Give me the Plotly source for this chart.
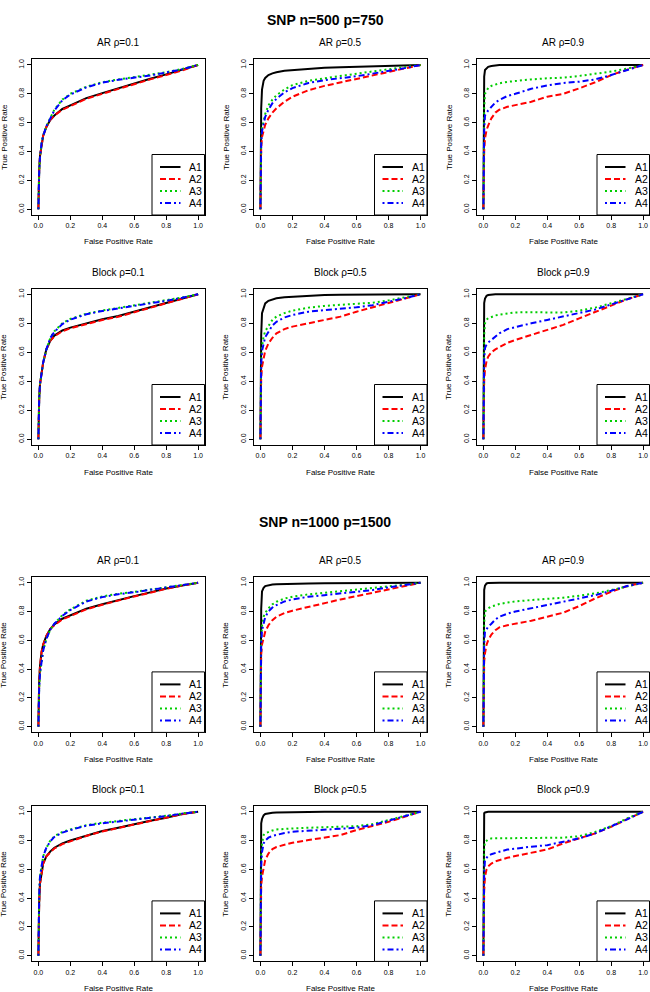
import plotly.graph_objects as go

# ---------------- data ----------------
FPR = [0, 0.002, 0.005, 0.01, 0.02, 0.03, 0.05, 0.075, 0.1, 0.15, 0.2, 0.3, 0.4, 0.5, 0.6, 0.7, 0.8, 0.9, 1.0]
METHODS = ["A1", "A2", "A3", "A4"]
PANEL_TITLES = ["AR ρ=0.1", "AR ρ=0.5", "AR ρ=0.9", "Block ρ=0.1", "Block ρ=0.5", "Block ρ=0.9"]
SECTION_TITLES = ["SNP n=500 p=750", "SNP n=1000 p=1500"]
TICKS = [0.0, 0.2, 0.4, 0.6, 0.8, 1.0]

# n=500, p=750
ar01_n500_A1 = [0, 0.15, 0.27, 0.37, 0.46, 0.51, 0.57, 0.62, 0.65, 0.695, 0.72, 0.77, 0.805, 0.84, 0.875, 0.905, 0.935, 0.965, 1]
ar01_n500_A2 = [0, 0.15, 0.27, 0.37, 0.46, 0.51, 0.57, 0.62, 0.65, 0.69, 0.715, 0.765, 0.80, 0.835, 0.87, 0.90, 0.93, 0.962, 1]
ar01_n500_A3 = [0, 0.14, 0.26, 0.36, 0.46, 0.51, 0.575, 0.635, 0.69, 0.76, 0.80, 0.85, 0.88, 0.90, 0.915, 0.93, 0.95, 0.972, 1]
ar01_n500_A4 = [0, 0.14, 0.26, 0.36, 0.46, 0.51, 0.575, 0.63, 0.685, 0.755, 0.795, 0.845, 0.877, 0.897, 0.912, 0.927, 0.948, 0.97, 1]

ar05_n500_A1 = [0, 0.5, 0.7, 0.83, 0.89, 0.91, 0.93, 0.942, 0.95, 0.96, 0.965, 0.975, 0.98, 0.985, 0.988, 0.99, 0.993, 0.996, 1]
ar05_n500_A2 = [0, 0.3, 0.42, 0.5, 0.55, 0.585, 0.63, 0.67, 0.70, 0.745, 0.78, 0.825, 0.855, 0.88, 0.905, 0.928, 0.952, 0.975, 1]
ar05_n500_A3 = [0, 0.35, 0.48, 0.56, 0.62, 0.66, 0.72, 0.76, 0.79, 0.83, 0.86, 0.89, 0.908, 0.922, 0.937, 0.955, 0.97, 0.985, 1]
ar05_n500_A4 = [0, 0.33, 0.46, 0.54, 0.60, 0.64, 0.69, 0.735, 0.765, 0.81, 0.84, 0.875, 0.895, 0.908, 0.922, 0.94, 0.958, 0.978, 1]

ar09_n500_A1 = [0, 0.8, 0.92, 0.965, 0.98, 0.987, 0.993, 0.997, 0.999, 1, 1, 1, 1, 1, 1, 1, 1, 1, 1]
ar09_n500_A2 = [0, 0.3, 0.4, 0.49, 0.55, 0.58, 0.63, 0.67, 0.69, 0.71, 0.72, 0.745, 0.78, 0.80, 0.838, 0.88, 0.93, 0.968, 1]
ar09_n500_A3 = [0, 0.5, 0.7, 0.80, 0.825, 0.84, 0.855, 0.865, 0.873, 0.883, 0.89, 0.90, 0.908, 0.912, 0.924, 0.938, 0.954, 0.975, 1]
ar09_n500_A4 = [0, 0.4, 0.55, 0.65, 0.67, 0.685, 0.71, 0.74, 0.757, 0.785, 0.80, 0.835, 0.858, 0.875, 0.884, 0.90, 0.93, 0.963, 1]

bl01_n500_A1 = [0, 0.15, 0.28, 0.38, 0.47, 0.53, 0.62, 0.68, 0.715, 0.75, 0.77, 0.80, 0.828, 0.85, 0.88, 0.908, 0.938, 0.966, 1]
bl01_n500_A2 = [0, 0.15, 0.28, 0.38, 0.47, 0.53, 0.62, 0.68, 0.71, 0.745, 0.765, 0.795, 0.823, 0.845, 0.875, 0.905, 0.935, 0.965, 1]
bl01_n500_A3 = [0, 0.15, 0.28, 0.38, 0.47, 0.53, 0.62, 0.70, 0.745, 0.80, 0.83, 0.866, 0.888, 0.905, 0.922, 0.94, 0.958, 0.978, 1]
bl01_n500_A4 = [0, 0.15, 0.28, 0.38, 0.47, 0.53, 0.62, 0.70, 0.74, 0.795, 0.825, 0.862, 0.885, 0.902, 0.918, 0.936, 0.955, 0.976, 1]

bl05_n500_A1 = [0, 0.5, 0.72, 0.87, 0.91, 0.937, 0.955, 0.966, 0.972, 0.98, 0.984, 0.99, 0.995, 0.997, 0.998, 0.999, 1, 1, 1]
bl05_n500_A2 = [0, 0.3, 0.42, 0.5, 0.57, 0.61, 0.66, 0.70, 0.73, 0.76, 0.777, 0.80, 0.823, 0.846, 0.88, 0.908, 0.94, 0.97, 1]
bl05_n500_A3 = [0, 0.4, 0.55, 0.64, 0.71, 0.745, 0.785, 0.825, 0.846, 0.87, 0.887, 0.908, 0.92, 0.926, 0.933, 0.942, 0.958, 0.978, 1]
bl05_n500_A4 = [0, 0.37, 0.52, 0.61, 0.67, 0.705, 0.74, 0.785, 0.81, 0.84, 0.857, 0.88, 0.891, 0.898, 0.91, 0.925, 0.946, 0.972, 1]

bl09_n500_A1 = [0, 0.85, 0.94, 0.97, 0.99, 0.995, 0.998, 1, 1, 1, 1, 1, 1, 1, 1, 1, 1, 1, 1]
bl09_n500_A2 = [0, 0.3, 0.4, 0.48, 0.54, 0.57, 0.60, 0.62, 0.635, 0.665, 0.685, 0.72, 0.754, 0.789, 0.834, 0.878, 0.925, 0.966, 1]
bl09_n500_A3 = [0, 0.55, 0.72, 0.80, 0.825, 0.834, 0.845, 0.854, 0.86, 0.87, 0.875, 0.876, 0.874, 0.874, 0.887, 0.908, 0.938, 0.97, 1]
bl09_n500_A4 = [0, 0.4, 0.55, 0.628, 0.655, 0.667, 0.685, 0.71, 0.73, 0.76, 0.775, 0.80, 0.823, 0.846, 0.869, 0.895, 0.93, 0.965, 1]

# n=1000, p=1500
ar01_n1000_A1 = [0, 0.2, 0.32, 0.42, 0.52, 0.57, 0.63, 0.68, 0.71, 0.75, 0.775, 0.82, 0.85, 0.88, 0.907, 0.933, 0.96, 0.98, 1]
ar01_n1000_A2 = [0, 0.2, 0.32, 0.42, 0.52, 0.57, 0.63, 0.68, 0.705, 0.745, 0.77, 0.815, 0.847, 0.877, 0.905, 0.93, 0.958, 0.98, 1]
ar01_n1000_A3 = [0, 0.16, 0.27, 0.37, 0.47, 0.53, 0.61, 0.675, 0.715, 0.775, 0.815, 0.875, 0.905, 0.924, 0.937, 0.953, 0.972, 0.988, 1]
ar01_n1000_A4 = [0, 0.16, 0.27, 0.37, 0.47, 0.53, 0.61, 0.675, 0.715, 0.77, 0.81, 0.87, 0.90, 0.92, 0.934, 0.95, 0.97, 0.987, 1]

ar05_n1000_A1 = [0, 0.6, 0.82, 0.94, 0.965, 0.977, 0.984, 0.988, 0.99, 0.992, 0.994, 0.995, 0.996, 0.997, 0.998, 0.999, 1, 1, 1]
ar05_n1000_A2 = [0, 0.35, 0.5, 0.57, 0.625, 0.66, 0.705, 0.74, 0.764, 0.79, 0.806, 0.833, 0.862, 0.884, 0.907, 0.93, 0.954, 0.977, 1]
ar05_n1000_A3 = [0, 0.4, 0.6, 0.7, 0.764, 0.79, 0.822, 0.85, 0.868, 0.89, 0.903, 0.919, 0.93, 0.94, 0.949, 0.96, 0.972, 0.986, 1]
ar05_n1000_A4 = [0, 0.4, 0.58, 0.67, 0.729, 0.76, 0.80, 0.828, 0.845, 0.87, 0.884, 0.903, 0.914, 0.926, 0.938, 0.949, 0.968, 0.984, 1]

ar09_n1000_A1 = [0, 0.85, 0.95, 0.98, 0.995, 0.998, 1, 1, 1, 1, 1, 1, 1, 1, 1, 1, 1, 1, 1]
ar09_n1000_A2 = [0, 0.35, 0.45, 0.51, 0.57, 0.60, 0.64, 0.67, 0.69, 0.705, 0.715, 0.736, 0.764, 0.792, 0.838, 0.891, 0.938, 0.977, 1]
ar09_n1000_A3 = [0, 0.55, 0.72, 0.80, 0.812, 0.822, 0.835, 0.845, 0.852, 0.862, 0.87, 0.88, 0.887, 0.896, 0.91, 0.926, 0.949, 0.977, 1]
ar09_n1000_A4 = [0, 0.45, 0.58, 0.66, 0.68, 0.695, 0.715, 0.745, 0.764, 0.785, 0.80, 0.822, 0.845, 0.868, 0.891, 0.914, 0.944, 0.977, 1]

bl01_n1000_A1 = [0, 0.22, 0.37, 0.50, 0.59, 0.64, 0.69, 0.725, 0.75, 0.78, 0.80, 0.835, 0.866, 0.889, 0.914, 0.938, 0.958, 0.984, 1]
bl01_n1000_A2 = [0, 0.22, 0.37, 0.50, 0.59, 0.64, 0.69, 0.72, 0.745, 0.775, 0.795, 0.832, 0.863, 0.887, 0.912, 0.936, 0.957, 0.983, 1]
bl01_n1000_A3 = [0, 0.25, 0.42, 0.55, 0.64, 0.69, 0.75, 0.80, 0.83, 0.86, 0.877, 0.907, 0.924, 0.935, 0.947, 0.958, 0.972, 0.988, 1]
bl01_n1000_A4 = [0, 0.25, 0.42, 0.55, 0.64, 0.69, 0.75, 0.795, 0.825, 0.855, 0.873, 0.903, 0.92, 0.932, 0.944, 0.955, 0.97, 0.987, 1]

bl05_n1000_A1 = [0, 0.75, 0.92, 0.95, 0.975, 0.984, 0.99, 0.993, 0.995, 0.997, 0.998, 0.999, 1, 1, 1, 1, 1, 1, 1]
bl05_n1000_A2 = [0, 0.35, 0.48, 0.55, 0.62, 0.664, 0.71, 0.74, 0.755, 0.772, 0.785, 0.803, 0.822, 0.838, 0.873, 0.90, 0.93, 0.965, 1]
bl05_n1000_A3 = [0, 0.5, 0.7, 0.78, 0.838, 0.85, 0.861, 0.87, 0.877, 0.882, 0.884, 0.889, 0.891, 0.896, 0.90, 0.914, 0.942, 0.972, 1]
bl05_n1000_A4 = [0, 0.45, 0.62, 0.72, 0.78, 0.80, 0.82, 0.832, 0.84, 0.852, 0.861, 0.868, 0.873, 0.88, 0.889, 0.907, 0.938, 0.968, 1]

bl09_n1000_A1 = [0, 0.98, 0.99, 0.995, 1, 1, 1, 1, 1, 1, 1, 1, 1, 1, 1, 1, 1, 1, 1]
bl09_n1000_A2 = [0, 0.35, 0.45, 0.549, 0.60, 0.62, 0.64, 0.655, 0.664, 0.68, 0.692, 0.715, 0.738, 0.78, 0.815, 0.85, 0.896, 0.947, 1]
bl09_n1000_A3 = [0, 0.6, 0.75, 0.79, 0.80, 0.808, 0.815, 0.815, 0.815, 0.815, 0.815, 0.815, 0.815, 0.82, 0.83, 0.86, 0.90, 0.954, 1]
bl09_n1000_A4 = [0, 0.45, 0.58, 0.664, 0.685, 0.695, 0.705, 0.715, 0.722, 0.737, 0.745, 0.757, 0.768, 0.792, 0.815, 0.85, 0.896, 0.947, 1]

PANELS = [
    [ar01_n500_A1, ar01_n500_A2, ar01_n500_A3, ar01_n500_A4],
    [ar05_n500_A1, ar05_n500_A2, ar05_n500_A3, ar05_n500_A4],
    [ar09_n500_A1, ar09_n500_A2, ar09_n500_A3, ar09_n500_A4],
    [bl01_n500_A1, bl01_n500_A2, bl01_n500_A3, bl01_n500_A4],
    [bl05_n500_A1, bl05_n500_A2, bl05_n500_A3, bl05_n500_A4],
    [bl09_n500_A1, bl09_n500_A2, bl09_n500_A3, bl09_n500_A4],
    [ar01_n1000_A1, ar01_n1000_A2, ar01_n1000_A3, ar01_n1000_A4],
    [ar05_n1000_A1, ar05_n1000_A2, ar05_n1000_A3, ar05_n1000_A4],
    [ar09_n1000_A1, ar09_n1000_A2, ar09_n1000_A3, ar09_n1000_A4],
    [bl01_n1000_A1, bl01_n1000_A2, bl01_n1000_A3, bl01_n1000_A4],
    [bl05_n1000_A1, bl05_n1000_A2, bl05_n1000_A3, bl05_n1000_A4],
    [bl09_n1000_A1, bl09_n1000_A2, bl09_n1000_A3, bl09_n1000_A4],
]

# ---------------- styling / layout ----------------
W, H = 650, 992
FONT = "Liberation Sans, Arial, Helvetica, sans-serif"
COLORS = ["#000000", "#FF0000", "#00CD00", "#0000FF"]
DASHES = ["solid", "6px,3px", "2px,3px", "2px,3px,6px,3px"]
COLS = [(32, 204.5), (254, 427), (477, 649.5)]
ROWS = [(59.2, 215), (288.5, 445), (577, 732.4), (806, 961.4)]


def px(x):
    return x / W


def py(y):
    return 1 - y / H


fig = go.Figure()
layout = dict(
    width=W, height=H,
    margin=dict(l=0, r=0, t=0, b=0),
    paper_bgcolor="white", plot_bgcolor="white",
    showlegend=False,
    font=dict(family=FONT, color="black"),
)
shapes = []
annotations = []

for i, panel in enumerate(PANELS):
    r, c = i // 3, i % 3
    x0, x1 = COLS[c]
    y0, y1 = ROWS[r]
    n = i + 1
    xa = "xaxis" if n == 1 else f"xaxis{n}"
    ya = "yaxis" if n == 1 else f"yaxis{n}"
    xr = "x" if n == 1 else f"x{n}"
    yr = "y" if n == 1 else f"y{n}"
    axis_common = dict(
        range=[-0.04, 1.04], tickvals=TICKS, tickformat=".1f",
        showgrid=False, zeroline=False, showline=True, mirror=True,
        linecolor="black", linewidth=1, ticks="outside", ticklen=4,
        tickcolor="black", tickwidth=1, tickfont=dict(size=7, family=FONT, color="black"),
        fixedrange=True,
    )
    layout[xa] = dict(axis_common, domain=[px(x0), px(x1)], anchor=yr)
    layout[ya] = dict(axis_common, domain=[py(y1), py(y0)], anchor=xr, tickangle=-90)

    for k, yvals in enumerate(panel):
        fig.add_trace(go.Scatter(
            x=FPR, y=yvals, mode="lines", name=METHODS[k],
            line=dict(color=COLORS[k], width=2, dash=DASHES[k]),
            xaxis=xr, yaxis=yr, hoverinfo="skip",
        ))

    # panel title
    annotations.append(dict(text=PANEL_TITLES[i % 6], x=px((x0 + x1) / 2), y=py(y0 - 16.5),
                            xref="paper", yref="paper", showarrow=False,
                            xanchor="center", yanchor="middle", font=dict(size=10, family=FONT)))
    # axis titles
    annotations.append(dict(text="False Positive Rate", x=px((x0 + x1) / 2), y=py(y1 + 27),
                            xref="paper", yref="paper", showarrow=False,
                            xanchor="center", yanchor="middle", font=dict(size=8, family=FONT)))
    annotations.append(dict(text="True Positive Rate", x=px(x0 - 28), y=py((y0 + y1) / 2),
                            xref="paper", yref="paper", showarrow=False, textangle=-90,
                            xanchor="center", yanchor="middle", font=dict(size=8, family=FONT)))

    # legend box (bottom-right)
    lx0, lx1 = x1 - 52.5, x1
    ly0, ly1 = y1 - 60.5, y1
    shapes.append(dict(type="rect", xref="paper", yref="paper",
                       x0=px(lx0), x1=px(lx1), y0=py(ly1), y1=py(ly0),
                       fillcolor="white", line=dict(color="black", width=1)))
    for k, name in enumerate(METHODS):
        ey = y1 - 48 + 12 * k
        shapes.append(dict(type="line", xref="paper", yref="paper",
                           x0=px(lx0 + 8), x1=px(lx0 + 28.5), y0=py(ey), y1=py(ey),
                           line=dict(color=COLORS[k], width=2, dash=DASHES[k])))
        annotations.append(dict(text=name, x=px(lx0 + 35.5), y=py(ey),
                                xref="paper", yref="paper", showarrow=False,
                                xanchor="left", yanchor="middle", font=dict(size=10.5, family=FONT)))

# section titles
for t, yy in zip(SECTION_TITLES, [20, 522]):
    annotations.append(dict(text=f"<b>{t}</b>", x=px(325), y=py(yy), xref="paper", yref="paper",
                            showarrow=False, xanchor="center", yanchor="middle",
                            font=dict(size=14, family=FONT)))

layout["shapes"] = shapes
layout["annotations"] = annotations
fig.update_layout(**layout)
fig.write_html("out.html", config={"displayModeBar": False},
               post_script="document.body.style.margin='0px';document.body.style.overflow='hidden';")
